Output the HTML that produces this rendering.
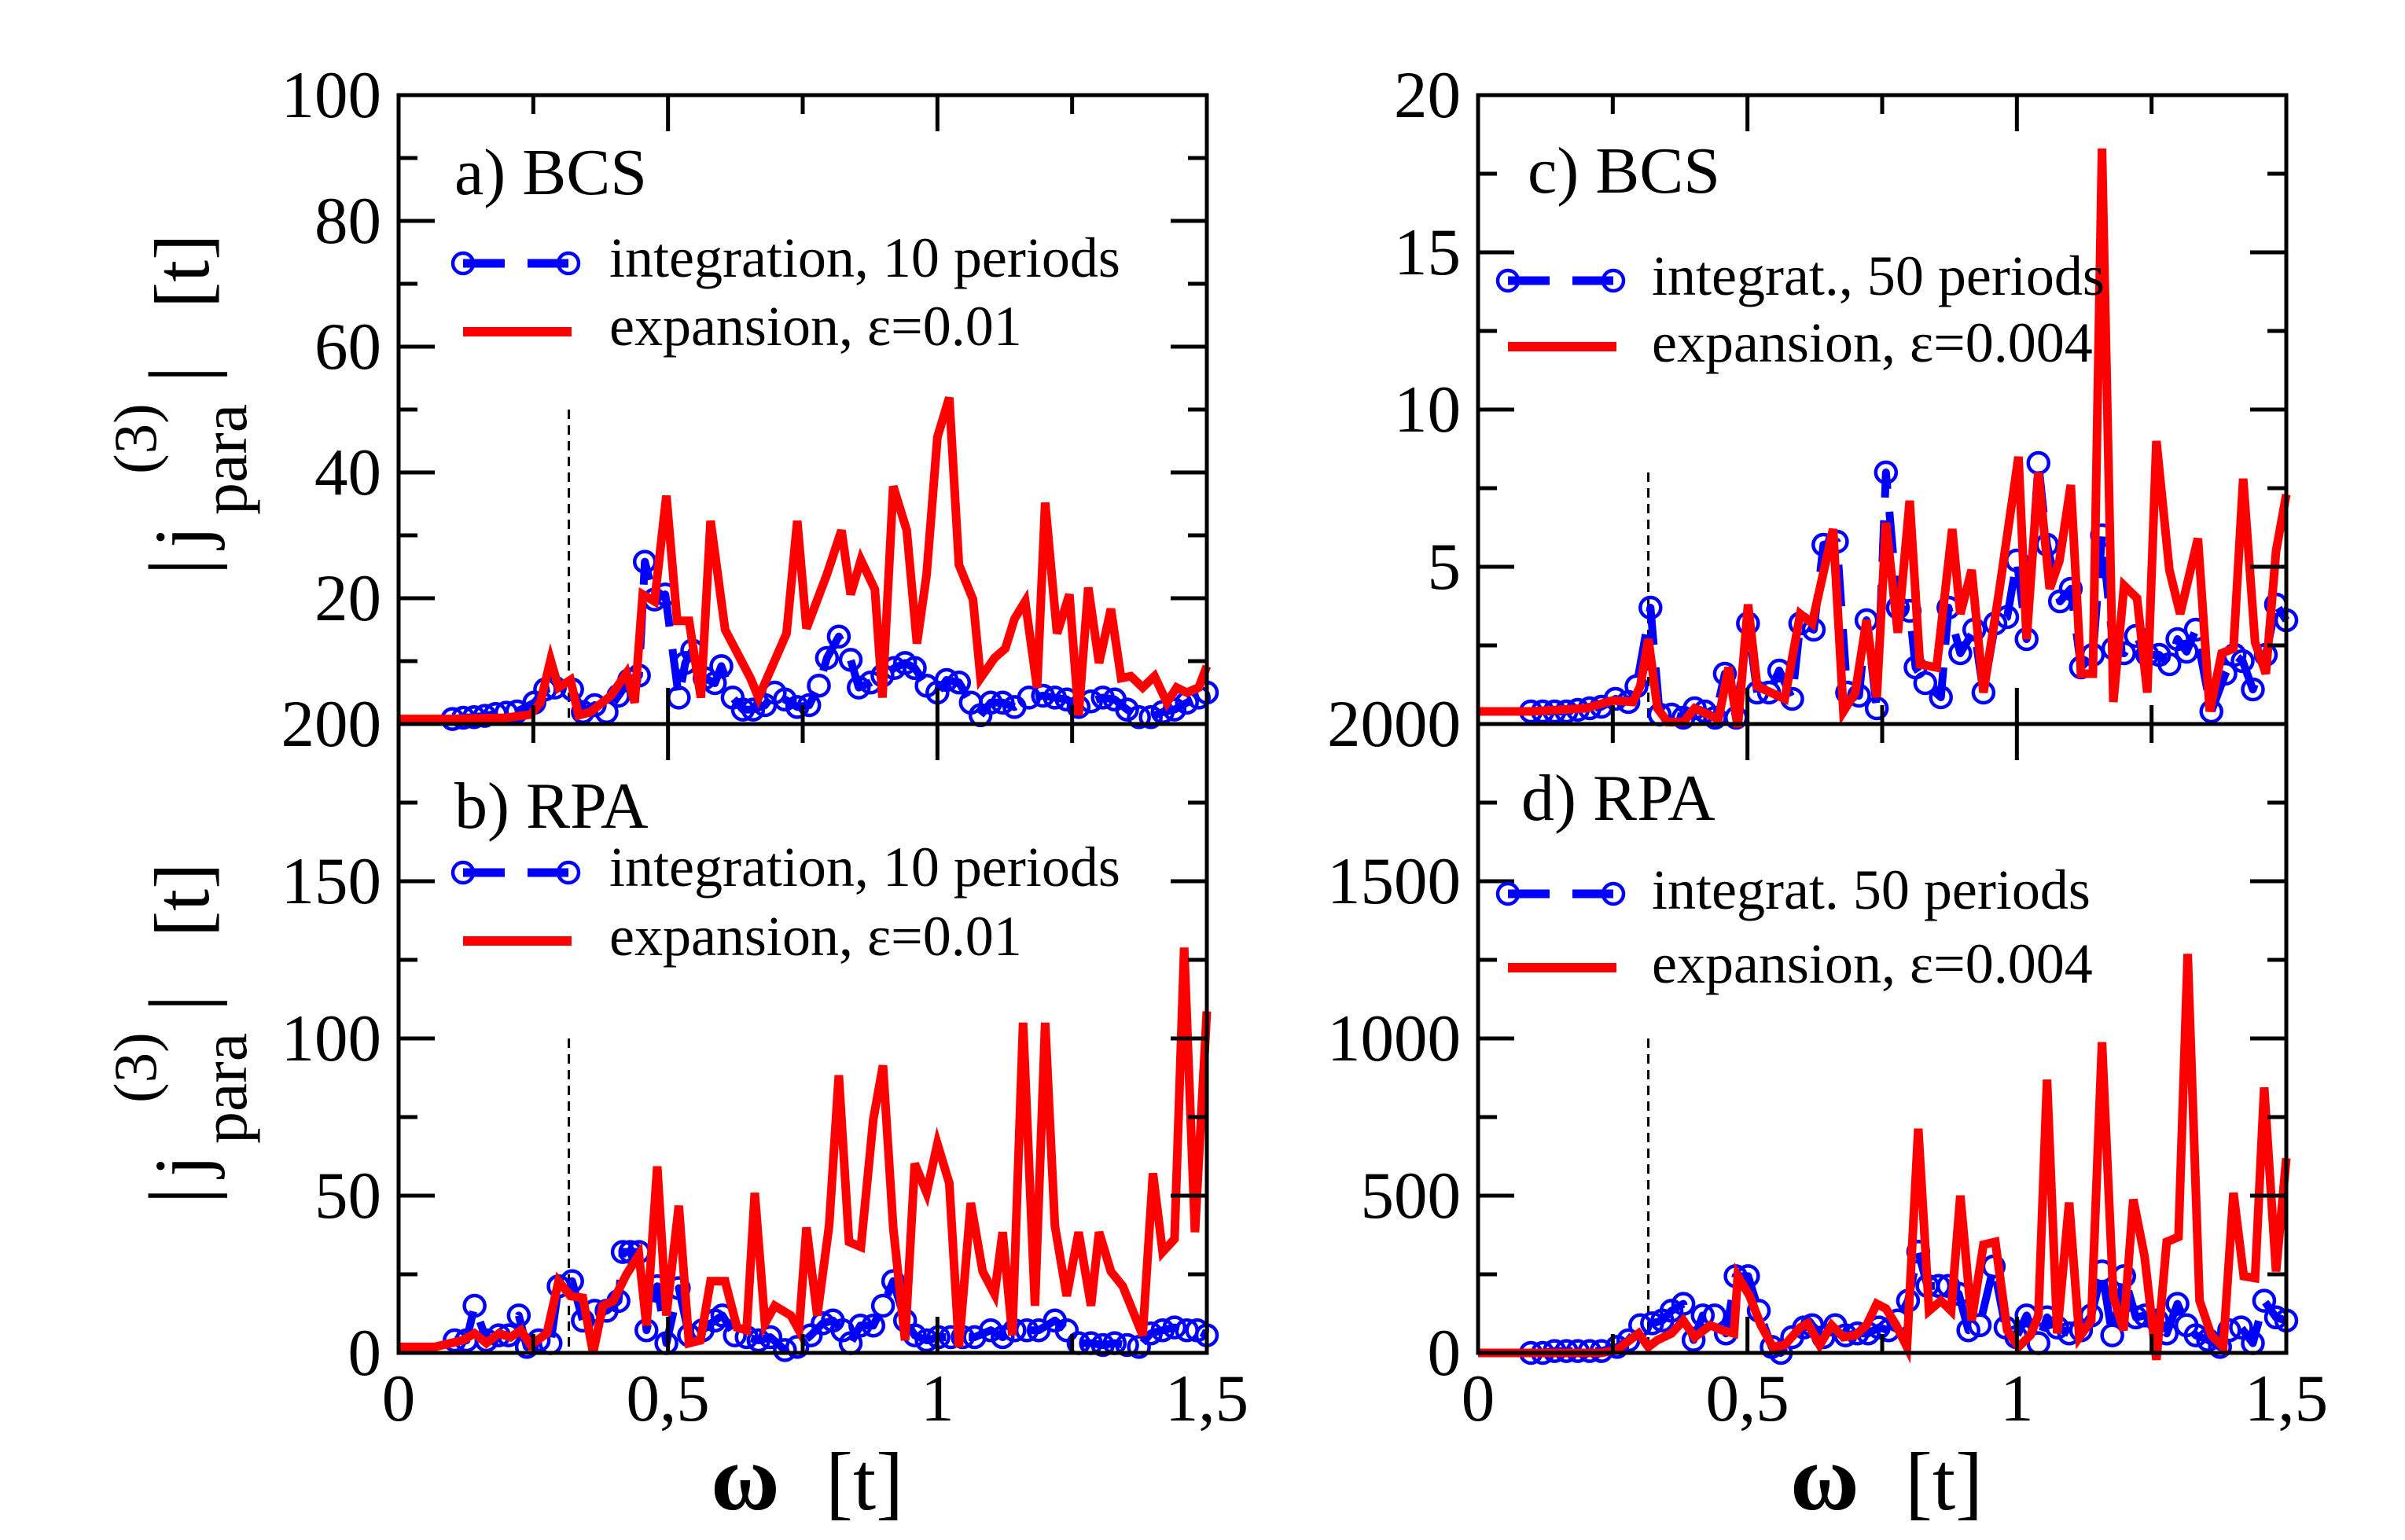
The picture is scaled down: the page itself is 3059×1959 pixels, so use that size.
<!DOCTYPE html>
<html><head><meta charset="utf-8"><style>
html,body{margin:0;padding:0;background:#fff}
svg{display:block}
text{font-family:"Liberation Serif","Times New Roman",Times,serif !important;fill:#000}
</style></head><body>
<svg id="chart" width="3059" height="1959" viewBox="0 0 3059 1959" xmlns="http://www.w3.org/2000/svg">
<g id="marks"></g>
<g id="frames"></g>
<g id="texts" font-family="Liberation Serif, serif"></g>
</svg>
<script>
// ---- data ----
const xTickLabels = ["0","0,5","1","1,5"];
const xTickValues = [0,0.5,1,1.5];
const aTicks = [0,20,40,60,80,100];
const bTicks = [0,50,100,150,200];
const cTicks = [0,5,10,15,20];
const dTicks = [0,500,1000,1500,2000];
const aTickLabels = ["0","20","40","60","80","100"];
const bTickLabels = ["0","50","100","150","200"];
const cTickLabels = ["0","5","10","15","20"];
const dTickLabels = ["0","500","1000","1500","2000"];
const markerOmega = 0.316;

const aRedX=[0,0.1,0.2,0.245,0.263,0.282,0.297,0.319,0.334,0.356,0.394,0.423,0.438,0.453,0.475,0.497,0.517,0.539,0.561,0.579,0.606,0.653,0.668,0.72,0.74,0.757,0.795,0.822,0.839,0.858,0.884,0.898,0.918,0.943,0.962,0.98,1.0,1.022,1.04,1.066,1.08,1.106,1.126,1.143,1.163,1.185,1.2,1.222,1.245,1.262,1.28,1.3,1.322,1.341,1.359,1.381,1.403,1.426,1.444,1.463,1.485,1.5];
const aRedY=[0.8,0.8,1.0,1.5,3.4,10.2,5.8,7,1.4,1.9,4.5,8.1,3.4,20.6,19.5,36.3,16.4,16.4,4.2,32.3,15,7.3,4.2,14.4,32.3,15.2,23.8,30.8,20.6,26.1,21.4,4.2,37.8,30.8,12.8,23.8,45.6,51.9,25.3,19.8,7.3,10.5,12,16.7,19.5,5.8,35.2,14.4,20.6,1.4,21.7,9.7,18.3,7.3,7.6,5.8,7.6,3.4,5.8,5,5.8,9.2];
const aBlueX=[0.1,0.12,0.14,0.16,0.18,0.2,0.22,0.252,0.272,0.29,0.322,0.342,0.364,0.386,0.408,0.428,0.446,0.457,0.475,0.495,0.52,0.532,0.545,0.568,0.587,0.599,0.62,0.639,0.658,0.68,0.698,0.717,0.74,0.762,0.78,0.795,0.817,0.839,0.854,0.876,0.898,0.92,0.94,0.958,0.98,1.0,1.017,1.04,1.062,1.08,1.099,1.121,1.143,1.17,1.196,1.218,1.24,1.262,1.285,1.307,1.329,1.352,1.374,1.396,1.418,1.44,1.463,1.485,1.5];
const aBlueY=[0.8,1,1.1,1.3,1.6,1.8,2,3.4,5.5,5.8,5.5,1.9,3,1.9,4.5,7,7.7,25.8,19.8,20.6,4.2,9.7,11.7,7.3,6.5,9.2,4.2,2.3,2.3,3,5,3.9,2.7,3,6.1,10.5,13.9,10.2,5.8,6.6,7.7,8.9,9.7,8.9,6.1,5,7,6.6,3.4,1.4,3.4,3.4,2.7,4.2,4.5,4.2,3.9,2.7,3.6,4.2,3.9,2.3,1.1,1.1,1.9,2.3,3.4,4.2,5];

const bRedX=[0,0.067,0.119,0.141,0.163,0.186,0.208,0.227,0.245,0.275,0.297,0.319,0.342,0.361,0.379,0.398,0.423,0.446,0.46,0.48,0.497,0.52,0.539,0.56,0.579,0.606,0.628,0.646,0.661,0.68,0.698,0.728,0.743,0.757,0.777,0.799,0.817,0.836,0.858,0.881,0.899,0.918,0.94,0.958,0.98,1.0,1.022,1.04,1.062,1.084,1.106,1.121,1.139,1.159,1.181,1.2,1.218,1.24,1.262,1.285,1.3,1.322,1.344,1.381,1.4,1.418,1.44,1.458,1.478,1.5];
const bRedY=[1.9,1.9,4,6.2,3.1,6.2,5,7.2,2.5,6.2,22.8,18.1,17.5,0,15,16.5,25,31.2,8.7,59.3,11.9,46.8,3.1,4,22.8,22.8,8.1,7.2,50.9,9.4,15,11.9,7.2,39.9,11.9,40.5,88.3,35.3,33.7,74.3,91.4,39.9,4,60.2,50.9,66.5,54,1.9,47.7,25.9,18.7,38.4,5.6,105,15,105,40.5,18.1,38.4,15,38.4,25.9,21.2,5.6,57.1,32.1,36.2,128.9,38.4,108.6];
const bBlueX=[0.104,0.126,0.141,0.163,0.186,0.204,0.223,0.238,0.26,0.282,0.297,0.322,0.342,0.364,0.386,0.408,0.416,0.43,0.446,0.46,0.48,0.497,0.52,0.539,0.564,0.587,0.601,0.624,0.646,0.668,0.69,0.717,0.74,0.765,0.787,0.806,0.824,0.839,0.857,0.881,0.899,0.918,0.94,0.958,0.98,1.002,1.025,1.047,1.069,1.099,1.121,1.143,1.166,1.188,1.218,1.24,1.262,1.285,1.307,1.329,1.352,1.374,1.396,1.418,1.44,1.463,1.482,1.5];
const bBlueY=[4,4,15,4,5.6,5.6,11.9,1.9,4,3.1,21.2,22.8,10.3,13.4,13.4,16.5,32.1,32.1,32.1,7.2,21.2,3.1,20.6,5.6,7.2,10.3,11.9,5.6,5,4,5,0.9,1.9,5.6,9.4,10.3,7.2,3.1,8.7,8.7,15,22.8,10.3,5.6,4,5,5,5,5,7.2,5,7.2,7.2,7.2,10.3,7.2,3.1,3.1,2.5,3.1,2.5,1.9,6.2,7.2,8.1,7.2,7.2,5.6];

const cRedX=[0,0.098,0.2,0.25,0.287,0.301,0.316,0.333,0.352,0.381,0.402,0.446,0.465,0.482,0.501,0.518,0.569,0.598,0.62,0.659,0.678,0.7,0.721,0.74,0.757,0.779,0.801,0.82,0.851,0.88,0.895,0.916,0.938,0.967,1.003,1.018,1.04,1.061,1.079,1.1,1.119,1.141,1.158,1.179,1.199,1.223,1.242,1.259,1.283,1.303,1.336,1.358,1.38,1.402,1.42,1.442,1.462,1.481,1.5];
const cRedY=[0.4,0.4,0.5,0.75,0.7,1.2,2.7,0.5,0.06,0.06,0.5,0.15,1.8,-0.1,3.8,1.2,0.8,3.5,3.2,6.2,0.4,1,3.3,0.85,6.4,2.9,7.1,1.9,1.8,6.2,3.5,4.9,1,4.2,8.5,2.7,8,4.3,5.2,7.6,1.6,1.6,18.3,0.7,4.4,4,1,9,4.9,3.5,5.9,0.4,2.25,2.4,7.8,2.6,1.6,5.5,7.3];
const cBlueX=[0.098,0.12,0.142,0.164,0.185,0.207,0.229,0.255,0.279,0.294,0.32,0.337,0.359,0.381,0.402,0.421,0.44,0.458,0.479,0.501,0.518,0.54,0.559,0.583,0.598,0.623,0.641,0.666,0.685,0.707,0.721,0.74,0.757,0.779,0.801,0.812,0.83,0.859,0.873,0.895,0.921,0.938,0.96,0.982,1.0,1.018,1.04,1.056,1.08,1.1,1.119,1.141,1.158,1.179,1.199,1.221,1.242,1.264,1.283,1.298,1.315,1.332,1.361,1.387,1.404,1.419,1.438,1.462,1.481,1.5];
const cBlueY=[0.4,0.4,0.4,0.4,0.45,0.5,0.55,0.8,0.7,1.2,3.7,0.3,0.3,0.2,0.5,0.4,0.2,1.6,0.2,3.2,1,1,1.7,0.8,3.2,3,5.7,5.8,1,0.9,3.3,0.5,8,3.7,3.6,1.8,1.3,0.85,3.7,2.25,3,1,3.2,3.4,5.2,2.7,8.3,5.7,3.9,4.3,1.8,2.2,6,2.4,2.25,2.8,2.2,2.2,1.9,2.7,2.3,3,0.4,1.6,2.2,2,1.1,2.2,3.8,3.3];

const dRedX=[0,0.229,0.258,0.298,0.316,0.333,0.359,0.381,0.402,0.431,0.453,0.475,0.482,0.504,0.525,0.547,0.569,0.598,0.612,0.634,0.656,0.678,0.7,0.721,0.74,0.757,0.776,0.796,0.817,0.837,0.859,0.878,0.895,0.916,0.938,0.96,0.982,1.003,1.025,1.04,1.056,1.075,1.097,1.116,1.138,1.158,1.179,1.198,1.216,1.237,1.259,1.278,1.3,1.317,1.339,1.361,1.383,1.402,1.421,1.442,1.459,1.481,1.5];
const dRedY=[0,0,10,62,19,41,62,103,50,88,72,62,244,181,88,19,25,81,94,25,88,50,56,88,156,141,88,19,713,134,166,134,500,103,344,353,72,19,56,119,869,62,478,50,103,988,181,72,488,306,-22,353,369,1269,166,56,19,509,244,238,844,259,619];
const dBlueX=[0.098,0.12,0.142,0.164,0.185,0.207,0.229,0.258,0.279,0.301,0.323,0.342,0.359,0.381,0.4,0.417,0.439,0.46,0.478,0.501,0.521,0.545,0.562,0.583,0.605,0.62,0.641,0.663,0.682,0.704,0.724,0.744,0.762,0.779,0.798,0.817,0.834,0.855,0.873,0.892,0.91,0.931,0.957,0.979,0.999,1.018,1.04,1.056,1.075,1.097,1.119,1.138,1.158,1.177,1.199,1.221,1.238,1.26,1.278,1.298,1.315,1.332,1.355,1.377,1.394,1.416,1.438,1.459,1.481,1.5];
const dBlueY=[0,0,6,6,6,6,6,19,40,88,94,103,134,156,41,119,119,62,244,244,134,19,0,50,81,88,50,88,56,62,62,81,72,103,166,322,213,213,213,188,72,88,275,81,50,119,31,113,81,62,72,119,259,56,244,113,119,103,62,156,88,56,41,19,72,81,31,166,113,103];

// ---- layout ----
const NS="http://www.w3.org/2000/svg";
const panels=[
 {id:"a",x0:507,x1:1535,yTop:121,yBot:921,ymax:100,ticks:aTicks,labels:aTickLabels,minor:10,rx:aRedX,ry:aRedY,bx:aBlueX,by:aBlueY,dashTop:50},
 {id:"b",x0:507,x1:1535,yTop:921,yBot:1721,ymax:200,ticks:bTicks,labels:bTickLabels,minor:25,rx:bRedX,ry:bRedY,bx:bBlueX,by:bBlueY,dashTop:100},
 {id:"c",x0:1880,x1:2908,yTop:121,yBot:921,ymax:20,ticks:cTicks,labels:cTickLabels,minor:2.5,rx:cRedX,ry:cRedY,bx:cBlueX,by:cBlueY,dashTop:8},
 {id:"d",x0:1880,x1:2908,yTop:921,yBot:1721,ymax:2000,ticks:dTicks,labels:dTickLabels,minor:250,rx:dRedX,ry:dRedY,bx:dBlueX,by:dBlueY,dashTop:1000}
];
function mk(tag,attrs,parent){const e=document.createElementNS(NS,tag);for(const k in attrs)e.setAttribute(k,attrs[k]);parent.appendChild(e);return e;}
const marks=document.getElementById('marks'),frames=document.getElementById('frames'),texts=document.getElementById('texts');

panels.forEach(p=>{
  const sx=v=>p.x0+(v/1.5)*(p.x1-p.x0);
  const sy=v=>p.yBot-(v/p.ymax)*(p.yBot-p.yTop);
  const g=mk('g',{},marks);
  
  
  const dl=mk('line',{x1:sx(markerOmega),x2:sx(markerOmega),y1:sy(p.dashTop),y2:p.yBot,stroke:'#000','stroke-width':3,'stroke-dasharray':'12,8'},g);
  
  
  let d='';p.bx.forEach((x,i)=>{d+=(i?'L':'M')+sx(x).toFixed(1)+','+sy(p.by[i]).toFixed(1);});
  const bl=mk('path',{d:d,fill:'none',stroke:'#0000ff','stroke-width':10,'stroke-dasharray':'53,29','stroke-linejoin':'round'},g);
  
  
  p.bx.forEach((x,i)=>{
    const c=mk('circle',{cx:sx(x),cy:sy(p.by[i]),r:13,fill:'none',stroke:'#0000ff','stroke-width':4.5},g);
    
    
  });
  let r='';p.rx.forEach((x,i)=>{r+=(i?'L':'M')+sx(x).toFixed(1)+','+sy(p.ry[i]).toFixed(1);});
  const rl=mk('path',{d:r,fill:'none',stroke:'#ff0000','stroke-width':11,'stroke-linejoin':'miter','stroke-miterlimit':4},g);
  
  
  const fr=mk('rect',{x:p.x0,y:p.yTop,width:p.x1-p.x0,height:p.yBot-p.yTop,fill:'none',stroke:'#000','stroke-width':5},frames);
  
  
  for(let v=0;v<=p.ymax+1e-9;v+=p.minor){
    const major=Math.abs(v/p.ticks[1]-Math.round(v/p.ticks[1]))<1e-6;
    const L=major?46:24;const y=sy(v);
    if(y<=p.yTop+1||y>=p.yBot-1)continue;
    const t1=mk('line',{x1:p.x0,x2:p.x0+L,y1:y,y2:y,stroke:'#000','stroke-width':5},frames);
    
    
    const t2=mk('line',{x1:p.x1,x2:p.x1-L,y1:y,y2:y,stroke:'#000','stroke-width':5},frames);
    
    
  }
  p.ticks.forEach((v,i)=>{
    const t=mk('text',{x:p.x0-22,y:sy(v)+28,'text-anchor':'end','font-size':85},texts);
    t.textContent=p.labels[i];
    
    
  });
  for(let k=0;k<=6;k++){
    const v=k*0.25;const x=sx(v);const L=(k%2==0)?46:24;
    if(k==0||k==6)continue;
    const a=mk('line',{x1:x,x2:x,y1:p.yBot,y2:p.yBot-L,stroke:'#000','stroke-width':5},frames);
    
    
    const b=mk('line',{x1:x,x2:x,y1:p.yTop,y2:p.yTop+L,stroke:'#000','stroke-width':5},frames);
    
    
  }
  if(p.id==='b'||p.id==='d'){
    xTickValues.forEach((v,i)=>{
      const t=mk('text',{x:sx(v),y:1807,'text-anchor':'middle','font-size':85},texts);
      t.textContent=xTickLabels[i];
      
      
    });
  }
});
</script>
<svg width="3059" height="1959" viewBox="0 0 3059 1959" style="position:absolute;left:0;top:0" xmlns="http://www.w3.org/2000/svg">
<g font-family="Liberation Serif, serif">
 <text x="578" y="247" font-size="84">a) BCS</text>
 <g>
  <line x1="589" y1="335" x2="723" y2="335" stroke="#0000ff" stroke-width="11" stroke-dasharray="53,29"/>
  <circle cx="589" cy="335" r="13" fill="none" stroke="#0000ff" stroke-width="4.5"/>
  <circle cx="723" cy="335" r="13" fill="none" stroke="#0000ff" stroke-width="4.5"/>
  <text x="775" y="352" font-size="72">integration, 10 periods</text>
  <line x1="589" y1="422" x2="727" y2="422" stroke="#ff0000" stroke-width="12"/>
  <text x="775" y="439" font-size="72">expansion, ε=0.01</text>
 </g>
 <text x="578" y="1053" font-size="84">b) RPA</text>
 <g>
  <line x1="589" y1="1110" x2="723" y2="1110" stroke="#0000ff" stroke-width="11" stroke-dasharray="53,29"/>
  <circle cx="589" cy="1110" r="13" fill="none" stroke="#0000ff" stroke-width="4.5"/>
  <circle cx="723" cy="1110" r="13" fill="none" stroke="#0000ff" stroke-width="4.5"/>
  <text x="775" y="1127" font-size="72">integration, 10 periods</text>
  <line x1="589" y1="1197" x2="727" y2="1197" stroke="#ff0000" stroke-width="12"/>
  <text x="775" y="1215" font-size="72">expansion, ε=0.01</text>
 </g>
 <text x="1943" y="245" font-size="84">c) BCS</text>
 <g>
  <line x1="1918" y1="357" x2="2052" y2="357" stroke="#0000ff" stroke-width="11" stroke-dasharray="53,29"/>
  <circle cx="1918" cy="357" r="13" fill="none" stroke="#0000ff" stroke-width="4.5"/>
  <circle cx="2052" cy="357" r="13" fill="none" stroke="#0000ff" stroke-width="4.5"/>
  <text x="2101" y="375" font-size="72">integrat., 50 periods</text>
  <line x1="1918" y1="441" x2="2056" y2="441" stroke="#ff0000" stroke-width="12"/>
  <text x="2101" y="460" font-size="72">expansion, ε=0.004</text>
 </g>
 <text x="1935" y="1043" font-size="84">d) RPA</text>
 <g>
  <line x1="1918" y1="1137" x2="2052" y2="1137" stroke="#0000ff" stroke-width="11" stroke-dasharray="53,29"/>
  <circle cx="1918" cy="1137" r="13" fill="none" stroke="#0000ff" stroke-width="4.5"/>
  <circle cx="2052" cy="1137" r="13" fill="none" stroke="#0000ff" stroke-width="4.5"/>
  <text x="2101" y="1156" font-size="72">integrat. 50 periods</text>
  <line x1="1918" y1="1231" x2="2056" y2="1231" stroke="#ff0000" stroke-width="12"/>
  <text x="2101" y="1250" font-size="72">expansion, ε=0.004</text>
 </g>
 <g transform="translate(265,727) rotate(-90)">
  <text x="-5" y="0" font-size="110">|</text>
  <text x="30" y="0" font-size="100">j</text>
  <text x="72" y="48" font-size="82">para</text>
  <text x="124" y="-67" font-size="77">(3)</text>
  <text x="240" y="0" font-size="110">|</text>
  <text x="335" y="0" font-size="100">[t]</text>
 </g>
 <g transform="translate(265,1527) rotate(-90)">
  <text x="-5" y="0" font-size="110">|</text>
  <text x="30" y="0" font-size="100">j</text>
  <text x="72" y="48" font-size="82">para</text>
  <text x="124" y="-67" font-size="77">(3)</text>
  <text x="240" y="0" font-size="110">|</text>
  <text x="335" y="0" font-size="100">[t]</text>
 </g>
 <g>
  <text x="904" y="1920" font-size="120" font-weight="bold">ω</text>
  <text x="1050" y="1920" font-size="105">[t]</text>
 </g>
 <g>
  <text x="2277" y="1920" font-size="120" font-weight="bold">ω</text>
  <text x="2423" y="1920" font-size="105">[t]</text>
 </g>
</g>
</svg>
</body></html>
